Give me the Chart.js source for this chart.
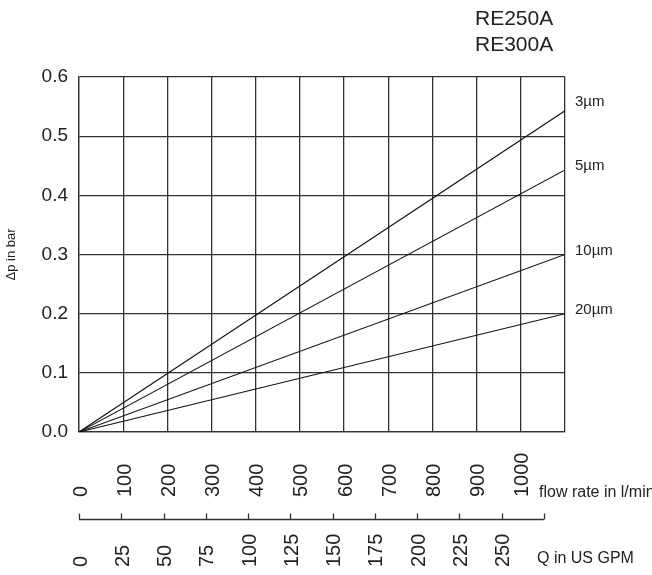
<!DOCTYPE html>
<html>
<head>
<meta charset="utf-8">
<script src="https://cdn.jsdelivr.net/npm/chart.js@4/dist/chart.umd.min.js"></script>
<style>
  html, body { margin: 0; padding: 0; background: #fff; }
  #chart { display: block; }
</style>
</head>
<body>
<canvas id="chart" width="652" height="575"></canvas>
<script>
// Data
const flowLpm = [0, 1100];
const dp3um = [0, 0.543];
const dp5um = [0, 0.443];
const dp10um = [0, 0.300];
const dp20um = [0, 0.200];
const seriesNames = ['3µm', '5µm', '10µm', '20µm'];

const lpmTicks = [0, 100, 200, 300, 400, 500, 600, 700, 800, 900, 1000];
const gpmTicks = [0, 25, 50, 75, 100, 125, 150, 175, 200, 225, 250];
const gpmAxisEnd = 275;
const gpmMax = 287.5; // GPM at the right edge, as drawn
const titleLines = ['RE250A', 'RE300A'];

const INK = '#222';
const GRID = '#333';
const FONT = "'Liberation Sans', Arial, sans-serif";

const toPoints = (ys) => flowLpm.map((x, i) => ({ x: x, y: ys[i] }));
const allSeries = [dp3um, dp5um, dp10um, dp20um];

// Extras: header, curve labels, rotated axis labels, GPM axis
const labelOffsets = [-5, 0, 0, 0];
const extras = {
    id: 'extras',
    afterDraw(chart) {
        const ctx = chart.ctx;
        const xs = chart.scales.x;
        const ys = chart.scales.y;
        const gs = chart.scales.gpm;
        ctx.save();
        ctx.fillStyle = INK;

        // header
        ctx.font = '21px ' + FONT;
        ctx.textAlign = 'left';
        ctx.textBaseline = 'alphabetic';
        ctx.fillText(titleLines[0], 475, 25);
        ctx.fillText(titleLines[1], 475, 51);

        // curve labels
        ctx.font = '15px ' + FONT;
        allSeries.forEach((s, i) => {
            const y = ys.getPixelForValue(s[s.length - 1]) + labelOffsets[i];
            ctx.fillText(seriesNames[i], 575, y);
        });

        // rotated tick labels
        ctx.font = '20px ' + FONT;
        ctx.textBaseline = 'middle';
        const rotText = (txt, x, y) => {
            ctx.save();
            ctx.translate(x, y);
            ctx.rotate(-Math.PI / 2);
            ctx.fillText(txt, 0, 0);
            ctx.restore();
        };
        lpmTicks.forEach(v => rotText(String(v), xs.getPixelForValue(v) + 2, 497));
        gpmTicks.forEach(v => rotText(String(v), gs.getPixelForValue(v) + 2, 567));

        // GPM axis line with ticks
        ctx.strokeStyle = GRID;
        ctx.lineWidth = 1.3;
        ctx.beginPath();
        const y0 = 519.5;
        ctx.moveTo(gs.getPixelForValue(0), y0);
        ctx.lineTo(gs.getPixelForValue(gpmAxisEnd), y0);
        gpmTicks.concat([gpmAxisEnd]).forEach(v => {
            const px = Math.round(gs.getPixelForValue(v)) + 0.5;
            ctx.moveTo(px, y0);
            ctx.lineTo(px, y0 - 6);
        });
        ctx.stroke();

        // axis names
        ctx.font = '16px ' + FONT;
        ctx.textBaseline = 'alphabetic';
        ctx.fillText('flow rate in l/min', 539, 497);
        ctx.fillText('Q in US GPM', 537, 563);
        ctx.restore();
    }
};

new Chart(document.getElementById('chart'), {
    type: 'line',
    data: {
        datasets: allSeries.map((s, i) => ({
            label: seriesNames[i],
            data: toPoints(s),
            borderColor: '#111',
            borderWidth: 1.1,
            pointRadius: 0,
            tension: 0,
            fill: false
        }))
    },
    options: {
        responsive: false,
        animation: false,
        layout: { padding: { left: 0, right: 87, top: 77, bottom: 143 } },
        plugins: {
            legend: { display: false },
            tooltip: { enabled: false }
        },
        scales: {
            x: {
                type: 'linear',
                min: 0,
                max: 1100,
                ticks: { stepSize: 100, display: false },
                grid: { color: GRID, lineWidth: 1.3, drawTicks: false },
                border: { color: GRID, width: 1.3 },
                afterFit: (s) => { s.height = 0; }
            },
            gpm: {
                type: 'linear',
                position: 'bottom',
                display: false,
                min: 0,
                max: gpmMax
            },
            y: {
                min: 0,
                max: 0.6,
                ticks: {
                    stepSize: 0.1,
                    padding: 11,
                    color: INK,
                    font: { family: FONT, size: 19 },
                    callback: (v) => v.toFixed(1)
                },
                grid: { color: GRID, lineWidth: 1.3, drawTicks: false },
                border: { color: GRID, width: 1.3 },
                title: {
                    display: true,
                    text: 'Δp in bar',
                    color: INK,
                    font: { family: FONT, size: 13 },
                    padding: { top: 4, bottom: 0 }
                },
                afterFit: (s) => { s.width = 79; }
            }
        }
    },
    plugins: [extras]
});
</script>
</body>
</html>
